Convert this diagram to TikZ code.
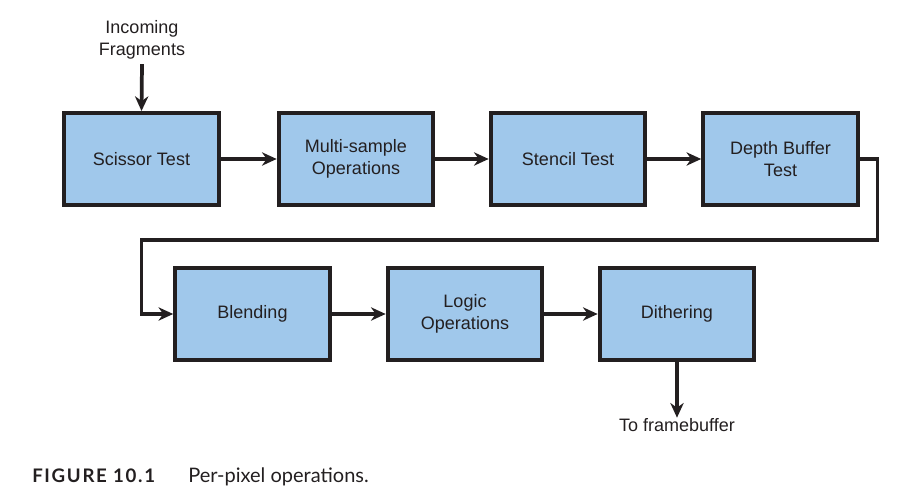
\documentclass[tikz,border=0pt]{standalone}
\usepackage{fontspec}
\setmainfont{Liberation Sans}
\newfontfamily\captionfont{Lato}
\usetikzlibrary{arrows.meta}
\usetikzlibrary{positioning}
\definecolor{stageblue}{RGB}{160, 200, 235}
\definecolor{inkblack}{RGB}{35, 31, 32}

\begin{document}
\begin{tikzpicture}[x=0.75pt, y=-0.75pt,
    stage/.style={draw=inkblack, fill=stageblue, line width=3pt, minimum width=116pt,
                  minimum height=69pt, align=center, font=\fontsize{13.5}{16.5}\selectfont, text=inkblack},
    flow/.style={draw=inkblack, line width=2.8pt, -{Stealth[length=11pt, width=10pt, inset=3.5pt]}},
    plain/.style={font=\fontsize{13.5}{16.5}\selectfont, text=inkblack, align=center}]
    % Frame
    \useasboundingbox (0,0) rectangle (908,502);
    % Top row
    \node[stage] (scissor) at (141.5,159) {Scissor Test};
    \node[stage] (multi)   at (356.0,159) {Multi-sample\\Operations};
    \node[stage] (stencil) at (568.0,159) {Stencil Test};
    \node[stage] (depth)   at (780.5,159) {Depth Buffer\\Test};
    % Bottom row
    \node[stage] (blend)   at (252.5,314) {Blending};
    \node[stage] (logic)   at (465.0,314) {Logic\\Operations};
    \node[stage] (dither)  at (677.0,314) {Dithering};
    % In & out
    \node[plain] (incoming) at (142,40) {Incoming\\Fragments};
    \node[plain] (framebuf) at (677,425) {To framebuffer};
    % Connectors
    \draw[flow] (incoming.south) -- (scissor.north);
    \draw[flow] (scissor) -- (multi);
    \draw[flow] (multi) -- (stencil);
    \draw[flow] (stencil) -- (depth);
    \draw[flow, line width=2.3pt] (depth.east) -- ++(18,0) |- (141.5,240) |- (blend.west);
    \draw[flow] (blend) -- (logic);
    \draw[flow] (logic) -- (dither);
    \draw[flow] (dither.south) -- ([yshift=-3pt]framebuf.north);
    % Caption
    \node[anchor=base west, inner sep=0pt, font=\captionfont\bfseries\fontsize{14}{16}\selectfont, text=inkblack]
        (fignum) at (32,483) {\addfontfeature{LetterSpace=9}FIGURE 10.1};
    \node[anchor=base west, inner sep=0pt, font=\captionfont\fontsize{15}{17}\selectfont, text=inkblack]
        (figtext) at (188,483) {Per-pixel operations.};
\end{tikzpicture}
\end{document}
